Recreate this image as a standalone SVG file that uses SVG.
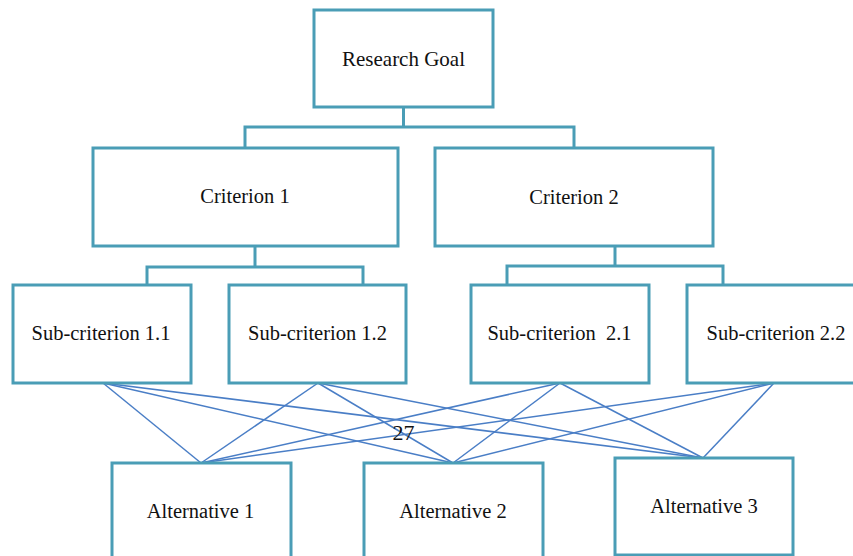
<svg xmlns="http://www.w3.org/2000/svg" width="853" height="556" viewBox="0 0 853 556">
<style>
.box{fill:#fff;stroke:#4A9DB6;stroke-width:3}
.tree{fill:none;stroke:#4A9DB6;stroke-width:3}
.link{stroke:#4A7EC6;stroke-width:1.5;fill:none}
text{font-family:"Liberation Serif","Times New Roman",serif;font-size:20.5px;fill:#111;text-anchor:middle}
</style>
<rect width="853" height="556" fill="#fff"/>
<g id="connectors">
<path class="tree" d="M403.5 107V127M245 148V127H574V148"/>
<path class="tree" d="M255 246V267M147 285V267H363V285"/>
<path class="tree" d="M615 246V266M507 285V266H723V285"/>
<g class="link">
<line x1="103" y1="383" x2="201" y2="463"/>
<line x1="103" y1="383" x2="453" y2="463"/>
<line x1="103" y1="383" x2="703" y2="458"/>
<line x1="318" y1="383" x2="201" y2="463"/>
<line x1="318" y1="383" x2="453" y2="463"/>
<line x1="318" y1="383" x2="703" y2="458"/>
<line x1="560" y1="383" x2="201" y2="463"/>
<line x1="560" y1="383" x2="453" y2="463"/>
<line x1="560" y1="383" x2="703" y2="458"/>
<line x1="774" y1="383" x2="201" y2="463"/>
<line x1="774" y1="383" x2="453" y2="463"/>
<line x1="774" y1="383" x2="703" y2="458"/>
</g>
</g>
<g id="goal"><rect class="box" x="314" y="10" width="179" height="97"/><text x="403.5" y="66" style="font-size:21px">Research Goal</text></g>
<g id="crit1"><rect class="box" x="93" y="148" width="305" height="98"/><text x="245" y="203">Criterion 1</text></g>
<g id="crit2"><rect class="box" x="435" y="148" width="278" height="98"/><text x="574" y="204">Criterion 2</text></g>
<g id="sub11"><rect class="box" x="13" y="285" width="178" height="98"/><text x="101" y="340">Sub-criterion 1.1</text></g>
<g id="sub12"><rect class="box" x="229" y="285" width="177" height="98"/><text x="317.5" y="340">Sub-criterion 1.2</text></g>
<g id="sub21"><rect class="box" x="471" y="285" width="178" height="98"/><text x="559.5" y="340" xml:space="preserve">Sub-criterion  2.1</text></g>
<g id="sub22"><rect class="box" x="687" y="285" width="178" height="98"/><text x="776" y="340">Sub-criterion 2.2</text></g>
<g id="alt1"><rect class="box" x="112" y="463" width="179" height="100"/><text x="200.5" y="518">Alternative 1</text></g>
<g id="alt2"><rect class="box" x="364" y="463" width="179" height="100"/><text x="453" y="518">Alternative 2</text></g>
<g id="alt3"><rect class="box" x="615" y="458" width="178" height="97"/><text x="704" y="513">Alternative 3</text></g>
<text x="403.5" y="440" style="font-size:22px">27</text>
</svg>
